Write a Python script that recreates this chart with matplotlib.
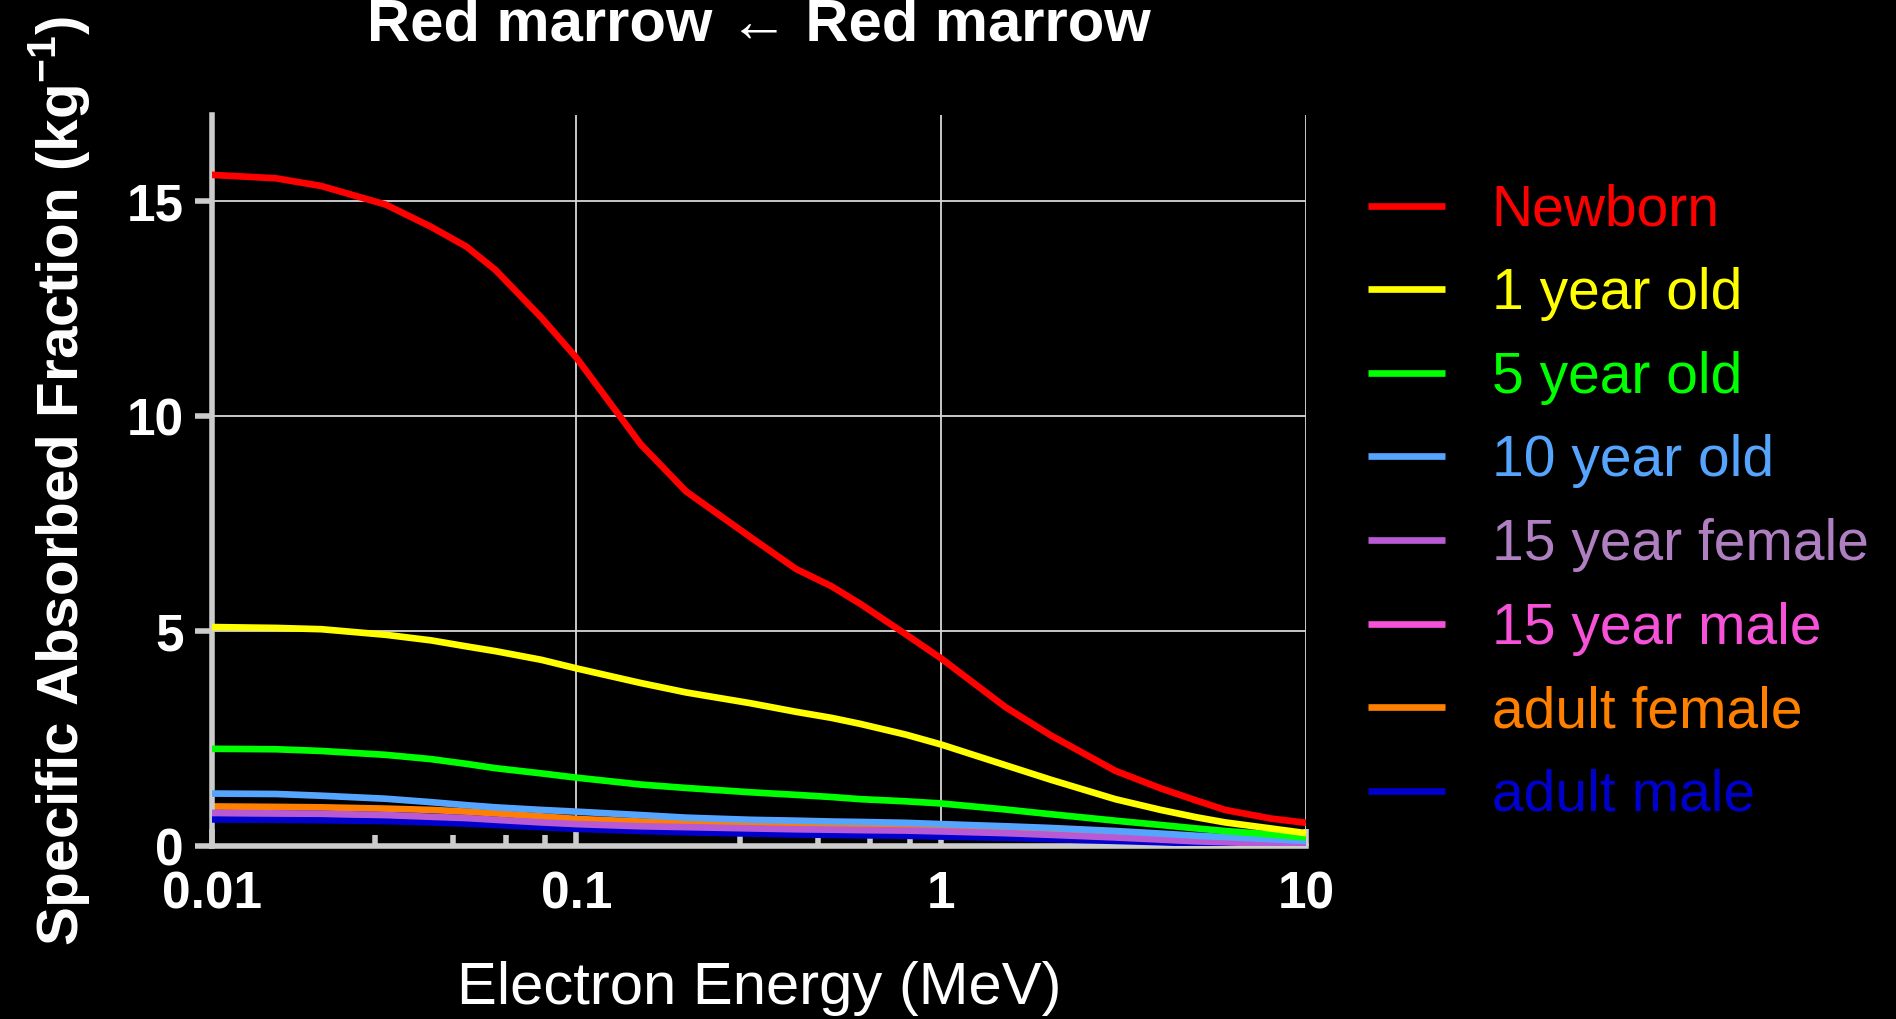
import numpy as np
import matplotlib.pyplot as plt
from matplotlib.ticker import FixedLocator, NullFormatter

plt.rcParams['font.family'] = ['Liberation Sans', 'DejaVu Sans']
plt.rcParams['mathtext.fontset'] = 'custom'
plt.rcParams['mathtext.rm'] = 'Liberation Sans'
plt.rcParams['mathtext.bf'] = 'Liberation Sans:bold'

# --------------------------------
# Data
# --------------------------------
energy = [0.01, 0.015, 0.02, 0.03, 0.04, 0.05, 0.06, 0.08, 0.1, 0.15, 0.2, 0.3,
          0.4, 0.5, 0.6, 0.8, 1, 1.5, 2, 3, 4, 5, 6, 8, 10]

newborn = [15.61, 15.53, 15.35, 14.92, 14.40, 13.94, 13.40, 12.30, 11.36, 9.35,
           8.25, 7.19, 6.45, 6.05, 5.64, 4.93, 4.37, 3.24, 2.58, 1.76, 1.35,
           1.07, 0.85, 0.65, 0.55]
year1 = [5.10, 5.08, 5.05, 4.92, 4.79, 4.65, 4.54, 4.34, 4.14, 3.80, 3.58, 3.33,
         3.13, 2.99, 2.85, 2.60, 2.37, 1.89, 1.55, 1.10, 0.85, 0.68, 0.56,
         0.42, 0.31]
year5 = [2.27, 2.26, 2.22, 2.13, 2.03, 1.92, 1.82, 1.70, 1.60, 1.44, 1.36, 1.26,
         1.20, 1.15, 1.10, 1.05, 1.00, 0.86, 0.75, 0.60, 0.50, 0.42, 0.36,
         0.28, 0.21]
year10 = [1.23, 1.22, 1.18, 1.11, 1.03, 0.96, 0.91, 0.85, 0.81, 0.73, 0.67, 0.62,
          0.60, 0.58, 0.57, 0.55, 0.52, 0.47, 0.43, 0.36, 0.30, 0.25, 0.22,
          0.17, 0.13]
year15_f = [0.78, 0.77, 0.76, 0.73, 0.69, 0.66, 0.62, 0.56, 0.52, 0.47, 0.45,
            0.42, 0.40, 0.39, 0.38, 0.37, 0.35, 0.31, 0.27, 0.21, 0.16, 0.12,
            0.10, 0.06, 0.04]
year15_m = [0.68, 0.67, 0.66, 0.64, 0.61, 0.58, 0.55, 0.49, 0.45, 0.40, 0.37,
            0.34, 0.32, 0.31, 0.30, 0.29, 0.27, 0.24, 0.21, 0.16, 0.12, 0.09,
            0.07, 0.05, 0.03]
adult_f = [0.93, 0.92, 0.91, 0.88, 0.85, 0.81, 0.77, 0.70, 0.64, 0.58, 0.55,
           0.51, 0.49, 0.47, 0.46, 0.44, 0.42, 0.36, 0.31, 0.24, 0.18, 0.14,
           0.11, 0.07, 0.05]
adult_m = [0.63, 0.62, 0.61, 0.59, 0.56, 0.53, 0.50, 0.45, 0.41, 0.36, 0.33,
           0.30, 0.28, 0.27, 0.26, 0.25, 0.23, 0.20, 0.17, 0.13, 0.10, 0.07,
           0.05, 0.03, 0.02]

labels = ["Newborn", "1 year old", "5 year old", "10 year old",
          "15 year female", "15 year male", "adult female", "adult male"]
series = [newborn, year1, year5, year10, year15_f, year15_m, adult_f, adult_m]
colors = ["#ff0000", "#ffff00", "#00ff00", "#55a5ff",
          "#b85ad4", "#f552d8", "#ff8000", "#0000cc"]
text_colors = ["#ff0000", "#ffff00", "#00ff00", "#55a5ff",
               "#b07fc2", "#f552d8", "#ff8000", "#0000cc"]

# drawing order (lower curves first, purple over pink/orange)
z_order = [8, 7, 6, 5, 4, 2, 1, 3]

# minor ticks: four linear steps inside each decade (1 + 1.8k)
minor_steps = [2.8, 4.6, 6.4, 8.2]
minor_ticks = [m * d for d in [0.01, 0.1, 1] for m in minor_steps]

# --------------------------------
# Plot
# --------------------------------
fig = plt.figure(figsize=(18.96, 10.19), dpi=100, facecolor="black")
ax = fig.add_axes([0.1116, 0.1693, 0.5772, 0.7178])
ax.set_facecolor("black")

handles = []
for lab, y, c, z in zip(labels, series, colors, z_order):
    h, = ax.plot(energy, y, color=c, linewidth=4.8, label=lab, zorder=z,
                 solid_capstyle="butt")
    handles.append(h)

ax.set_xscale("log")
ax.set_xlim(0.01, 10)
ax.set_ylim(0, 17)

ax.set_xticks([0.01, 0.1, 1, 10])
ax.set_xticklabels(["0.01", "0.1", "1", "10"])
ax.xaxis.set_minor_locator(FixedLocator(minor_ticks))
ax.xaxis.set_minor_formatter(NullFormatter())
ax.set_yticks([0, 5, 10, 15])

ax.grid(True, which="major", color="#d8d8d8", linewidth=1.3)
ax.set_axisbelow(True)

for s in ["top", "right"]:
    ax.spines[s].set_visible(False)
for s in ["left", "bottom"]:
    ax.spines[s].set_color("#cccccc")
    ax.spines[s].set_linewidth(4)

ax.tick_params(axis="x", which="major", direction="in", length=12, width=4,
               color="#cccccc", labelsize=37, labelcolor="white", pad=17)
ax.tick_params(axis="x", which="minor", direction="in", length=8, width=4,
               color="#cccccc")
ax.tick_params(axis="y", which="major", direction="out", length=12, width=4,
               color="#cccccc", labelsize=37, labelcolor="white", pad=8)
for t in ax.get_xticklabels() + ax.get_yticklabels():
    t.set_fontweight("bold")

ax.set_xlabel("Electron Energy (MeV)", color="white", fontsize=43, labelpad=30)
ax.set_ylabel("Specific Absorbed Fraction (kg$^{\\mathbf{-1}}$)", color="white",
              fontsize=42, fontweight="bold", labelpad=24)
ax.set_title("Red marrow \u2190 Red marrow", color="white", fontsize=43,
             fontweight="bold", pad=54)

leg = ax.legend(handles=handles, loc="upper left", bbox_to_anchor=(1.0096, 0.9765),
                frameon=False, fontsize=41, handlelength=1.35, handletextpad=0.83,
                labelspacing=0.52)
for txt, c in zip(leg.get_texts(), text_colors):
    txt.set_color(c)

plt.savefig("out.png", dpi=100, facecolor="black")
